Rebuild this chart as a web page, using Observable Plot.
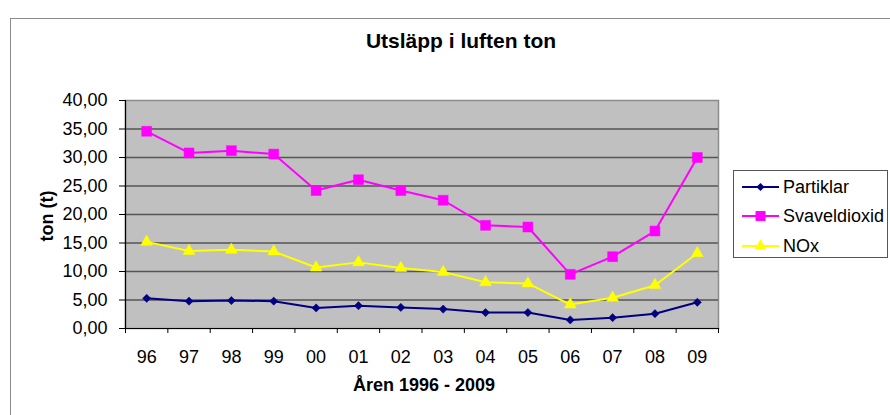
<!DOCTYPE html>
<html>
<head>
<meta charset="utf-8">
<script src="https://cdn.jsdelivr.net/npm/d3@7"></script>
<script src="https://cdn.jsdelivr.net/npm/@observablehq/plot@0.6"></script>
<style>
  body { margin: 0; background: #fff; font-family: "Liberation Sans", Arial, sans-serif; }
  #wrap { position: relative; width: 890px; height: 415px; overflow: hidden; }
  #outer { position: absolute; left: 10px; top: 18px; width: 1000px; height: 500px; border: 1px solid #8a8a8a; box-sizing: border-box; }
  #title { position: absolute; left: 461px; top: 41px; transform: translate(-50%, -50%); font-size: 21px; font-weight: bold; white-space: nowrap; color: #000; }
  #xtitle { position: absolute; left: 424px; top: 385px; transform: translate(-50%, -50%); font-size: 18px; font-weight: bold; white-space: nowrap; }
  #ytitle { position: absolute; left: 46.5px; top: 216px; transform: translate(-50%, -50%) rotate(-90deg); font-size: 18px; font-weight: bold; white-space: nowrap; }
  #chart { position: absolute; left: 0; top: 80px; }
  #legend { position: absolute; left: 733px; top: 170px; width: 155px; height: 88px; border: 1px solid #555; box-sizing: border-box; background: #fff; }
  .row { position: absolute; left: 8px; height: 20px; display: flex; align-items: center; font-size: 18px; white-space: nowrap; }
  .row svg { margin-right: 4px; }
</style>
</head>
<body>
<div id="wrap">
  <div id="outer"></div>
  <div id="title">Utsläpp i luften ton</div>
  <div id="chart"></div>
  <div id="ytitle">ton (t)</div>
  <div id="xtitle">Åren 1996 - 2009</div>
  <div id="legend"></div>
</div>
<script>
// ---- data ----
const years = ["96","97","98","99","00","01","02","03","04","05","06","07","08","09"];
const seriesNames = ["Partiklar", "Svaveldioxid", "NOx"];
const partiklar    = [5.3, 4.8, 4.9, 4.8, 3.6, 4.0, 3.7, 3.4, 2.8, 2.8, 1.5, 1.9, 2.6, 4.6];
const svaveldioxid = [34.6, 30.8, 31.2, 30.6, 24.2, 26.1, 24.2, 22.5, 18.1, 17.8, 9.5, 12.6, 17.1, 30.0];
const nox          = [15.2, 13.6, 13.8, 13.5, 10.7, 11.6, 10.6, 9.9, 8.1, 7.9, 4.2, 5.4, 7.6, 13.2];
const yTicks = [0, 5, 10, 15, 20, 25, 30, 35, 40];

// ---- styles ----
const colors  = ["#000080", "#ff00ff", "#ffff00"];
const symbols = ["diamond2", "square", "triangle"];
const radii   = [3.7, 5.6, 4.4];

const valuesBySeries = [partiklar, svaveldioxid, nox];
const rows = [];
seriesNames.forEach((s, k) => valuesBySeries[k].forEach((v, i) => rows.push({series: s, i, year: years[i], value: v})));

const idx = d3.range(years.length);
const bounds = d3.range(years.length + 1).map(i => i - 0.5);
const fmt = d => d.toFixed(2).replace(".", ",");

const marks = [
  Plot.frame({fill: "#c0c0c0", stroke: "#8c8c8c", strokeWidth: 1.5}),
  Plot.gridY({ticks: yTicks.slice(1, -1), stroke: "#555", strokeOpacity: 1, strokeWidth: 1.6}),
  Plot.frame({anchor: "left", stroke: "#000", strokeWidth: 1.2}),
  Plot.frame({anchor: "bottom", stroke: "#000", strokeWidth: 1.2}),
  Plot.axisY({ticks: yTicks, tickFormat: fmt, tickSize: 6, tickPadding: 12, fontSize: 18, label: null, stroke: "#000"}),
  Plot.axisX({ticks: bounds, tickFormat: () => "", tickSize: 5, label: null, stroke: "#000"}),
  Plot.axisX({ticks: idx, tickFormat: i => years[i], tickSize: 0, tickPadding: 22, fontSize: 18, label: null})
];
seriesNames.forEach((s, k) => {
  const d = rows.filter(r => r.series === s);
  marks.push(Plot.line(d, {x: "i", y: "value", stroke: colors[k], strokeWidth: 2}));
});
seriesNames.forEach((s, k) => {
  const d = rows.filter(r => r.series === s);
  marks.push(Plot.dot(d, {x: "i", y: "value", symbol: () => symbols[k], fill: colors[k], stroke: colors[k], strokeWidth: 0.5, r: radii[k]}));
});

const chart = Plot.plot({
  width: 730,
  height: 335,
  marginLeft: 125,
  marginRight: 12,
  marginTop: 20,
  marginBottom: 87,
  style: {fontFamily: "'Liberation Sans', Arial, sans-serif", fontSize: "18px", color: "#000", background: "transparent"},
  x: {type: "linear", domain: [-0.5, years.length - 0.5], axis: null},
  y: {domain: [0, 40], axis: null},
  symbol: {type: "identity"},
  marks
});
document.getElementById("chart").appendChild(chart);

// ---- legend ----
const legend = document.getElementById("legend");
const rowTops = [6, 35, 65];
seriesNames.forEach((s, k) => {
  const row = document.createElement("div");
  row.className = "row";
  row.style.top = rowTops[k] + "px";
  const sym = d3.symbol(d3["symbol" + {diamond2: "Diamond2", square: "Square", triangle: "Triangle"}[symbols[k]]], Math.PI * radii[k] * radii[k])();
  row.innerHTML = `<svg width="37" height="20"><line x1="0" x2="37" y1="10" y2="10" stroke="${colors[k]}" stroke-width="2"/><path transform="translate(18.5,10)" d="${sym}" fill="${colors[k]}"/></svg><span>${s}</span>`;
  legend.appendChild(row);
});
</script>
</body>
</html>
